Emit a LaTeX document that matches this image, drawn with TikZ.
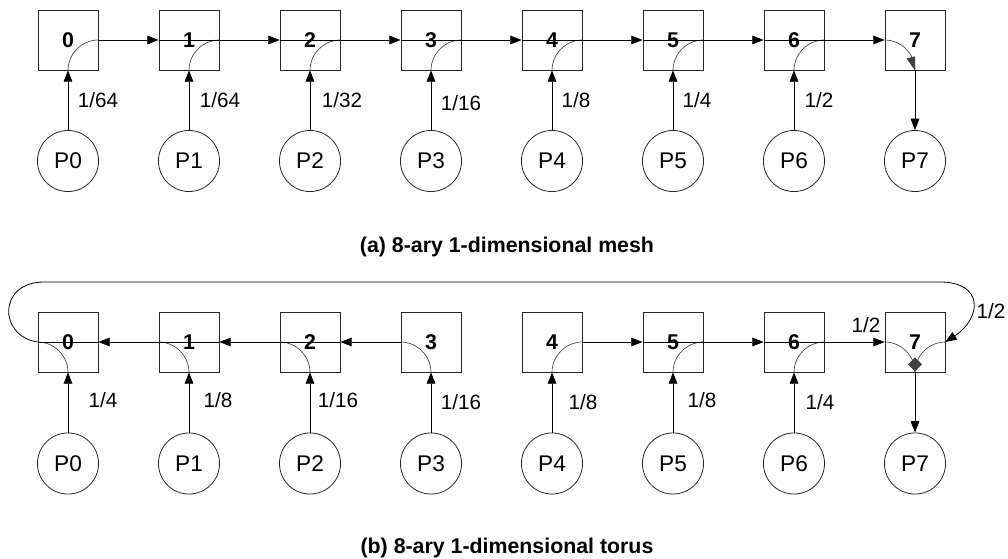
\documentclass[tikz,border=0pt]{standalone}
\usepackage{fontspec}
\setmainfont{Liberation Sans}
\usetikzlibrary{arrows.meta}
\definecolor{tipgray}{HTML}{404040}
\begin{document}
\begin{tikzpicture}[x=0.75pt,y=-0.75pt,
  rtr/.style={draw=black!85,line width=0.6pt,minimum size=45pt,inner sep=0pt,font=\bfseries\fontsize{16}{18}\selectfont},
  pe/.style={draw=black!85,line width=0.6pt,circle,minimum size=45.8pt,inner sep=0pt,font=\fontsize{17}{19}\selectfont},
  lbl/.style={font=\fontsize{15.5}{17}\selectfont,inner sep=0pt},
  captxt/.style={font=\bfseries\fontsize{16}{19}\selectfont,inner sep=0pt},
  link/.style={line width=0.6pt,-{Triangle[length=8.5pt,width=6.5pt]}},
  thru/.style={line width=0.6pt},
  turn/.style={line width=0.5pt,draw=black!75}]
\useasboundingbox (0,0) rectangle (1008,559);
% ---------- (a) mesh ----------
\foreach \i in {0,...,7}{
  \node[rtr] (a\i) at ({68+121*\i},40) {\i};
  \node[pe] (p\i) at ({68+121*\i},161) {P\i};
}
\foreach \i in {0,...,6}{
  \draw[link] (p\i.north) -- (a\i.south);
  \draw[turn] (a\i.south) .. controls +(0,-16.57) and +(-16.57,0) .. (a\i.east);
}
\foreach \i/\j in {0/1,1/2,2/3,3/4,4/5,5/6,6/7}{
  \draw[link] (a\i.east) -- (a\j.west);
}
\foreach \i in {1,...,6}{
  \draw[thru] (a\i.west) -- (a\i.east);
}
\draw[turn] (a7.west) .. controls +(16.57,0) and +(0,-16.57) .. (a7.south);
\fill[tipgray,shift={(a7.south)}] (0,0) -- (-8.5,-12) -- (0,-14) -- cycle;
\draw[link] (a7.south) -- (p7.north);
\node[lbl] (la0) at (98,100) {1/64};
\node[lbl] (la1) at (220,100) {1/64};
\node[lbl] (la2) at (342,100) {1/32};
\node[lbl] (la3) at (461,103) {1/16};
\node[lbl] (la4) at (576,100) {1/8};
\node[lbl] (la5) at (697,100) {1/4};
\node[lbl] (la6) at (819,100) {1/2};
\node[captxt] (capa) at (507,247) {(a) 8-ary 1-dimensional mesh};
% ---------- (b) torus ----------
\foreach \i in {0,...,7}{
  \node[rtr] (b\i) at ({68+121*\i},342) {\i};
  \node[pe] (q\i) at ({68+121*\i},463.5) {P\i};
}
\foreach \i in {0,...,6}{
  \draw[link] (q\i.north) -- (b\i.south);
}
% left half: flows to the left
\foreach \i in {0,...,3}{
  \draw[turn] (b\i.south) .. controls +(0,-16.57) and +(16.57,0) .. (b\i.west);
}
\foreach \i/\j in {3/2,2/1,1/0}{
  \draw[link] (b\i.west) -- (b\j.east);
}
\foreach \i in {0,1,2}{
  \draw[thru] (b\i.east) -- (b\i.west);
}
% right half: flows to the right
\foreach \i in {4,5,6}{
  \draw[turn] (b\i.south) .. controls +(0,-16.57) and +(-16.57,0) .. (b\i.east);
}
\foreach \i/\j in {4/5,5/6,6/7}{
  \draw[link] (b\i.east) -- (b\j.west);
}
\foreach \i in {5,6}{
  \draw[thru] (b\i.west) -- (b\i.east);
}
% wrap-around link
\coordinate (wl) at (44,282);
\coordinate (wr) at (940,282);
\draw[thru] (b0.west) .. controls (-2,336) and (-2,282) .. (wl) -- (wr);
\draw[link] (wr) .. controls (984,282) and (982,318) .. (b7.east);
% node 7 merge
\draw[turn] (b7.west) .. controls +(16.57,0) and +(0,-16.57) .. (b7.south);
\draw[turn] (b7.east) .. controls +(-16.57,0) and +(0,-16.57) .. (b7.south);
\fill[tipgray,shift={(b7.south)}] (0,-1) -- (-7,-8) -- (0,-15) -- (7,-8) -- cycle;
\draw[link] (b7.south) -- (q7.north);
\node[lbl] (lb0) at (103,400) {1/4};
\node[lbl] (lb1) at (218,400) {1/8};
\node[lbl] (lb2) at (338,400) {1/16};
\node[lbl] (lb3) at (461,402) {1/16};
\node[lbl] (lb4) at (583,402) {1/8};
\node[lbl] (lb5) at (702,400) {1/8};
\node[lbl] (lb6) at (820,402) {1/4};
\node[lbl] (lb7) at (866,325) {1/2};
\node[lbl] (lbw) at (991,311) {1/2};
\node[captxt] (capb) at (507,548) {(b) 8-ary 1-dimensional torus};
\end{tikzpicture}
\end{document}
